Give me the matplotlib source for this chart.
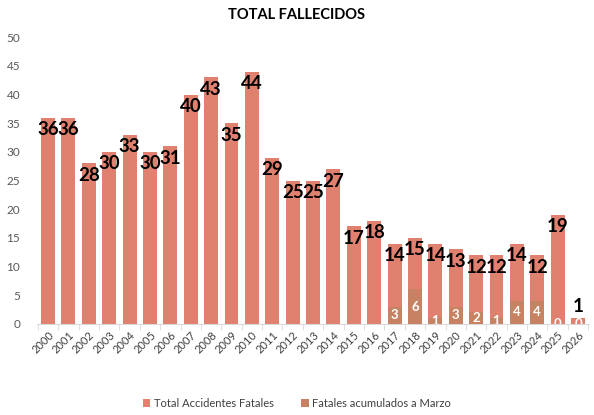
import numpy as np
import matplotlib.pyplot as plt

plt.rcParams['font.family'] = ['Lato', 'DejaVu Sans']

years = [str(y) for y in range(2000, 2027)]
total = [36, 36, 28, 30, 33, 30, 31, 40, 43, 35, 44, 29, 25, 25, 27,
         17, 18, 14, 15, 14, 13, 12, 12, 14, 12, 19, 1]
# fatales acumulados a marzo (solo desde 2017)
marzo = [None] * 17 + [3, 6, 1, 3, 2, 1, 4, 4, 0, 0]

c_total = '#E0806F'
c_marzo = '#C68262'

fig = plt.figure(figsize=(5.94, 4.15), dpi=100)
ax = fig.add_axes([0.062, 0.22, 0.93, 0.69])

x = np.arange(len(years))
ax.bar(x, total, width=0.68, color=c_total, zorder=2,
       label='Total Accidentes Fatales')
mvals = [m if m is not None else 0 for m in marzo]
ax.bar(x, mvals, width=0.68, color=c_marzo, zorder=3,
       label='Fatales acumulados a Marzo')

for i, v in enumerate(total):
    if v > 3:
        ax.text(x[i], v - 2.1, str(v), ha='center', va='center',
                fontsize=13.5, fontweight='bold', color='black', zorder=5)
    else:
        ax.text(x[i], v + 2.0, str(v), ha='center', va='center',
                fontsize=13.5, fontweight='bold', color='black', zorder=5)

for i, m in enumerate(marzo):
    if m is None:
        continue
    t = ax.text(x[i], m / 2, str(m), ha='center', va='center',
                fontsize=9.5, fontweight='bold', color='white', zorder=6)
    t.set_clip_on(True)

ax.set_xlim(-0.55, len(years) - 0.45)
ax.set_ylim(0, 50)
ax.set_yticks(range(0, 51, 5))
ax.set_xticks(x)
ax.set_xticklabels(years, rotation=45, ha='right', rotation_mode='anchor',
                   fontsize=8, color='#404040')
ax.set_xticks(np.arange(-0.5, len(years), 1), minor=True)
ax.tick_params(axis='x', which='major', length=0, pad=4)
ax.tick_params(axis='x', which='minor', length=4, color='#d9d9d9')
ax.tick_params(axis='y', length=0, labelsize=8.5, labelcolor='#595959', pad=12)

for s in ['top', 'right', 'left']:
    ax.spines[s].set_visible(False)
ax.spines['bottom'].set_color('#d9d9d9')

fig.text(0.5, 0.965, 'TOTAL FALLECIDOS', ha='center', va='center',
         fontsize=10.5, fontweight='bold')

fig.legend(loc='lower center', bbox_to_anchor=(0.5, -0.01), ncol=2,
           frameon=False, fontsize=8, handlelength=0.7, handleheight=0.7,
           columnspacing=2.5, handletextpad=0.3, labelcolor='#404040')

fig.savefig('out.png', dpi=100)
